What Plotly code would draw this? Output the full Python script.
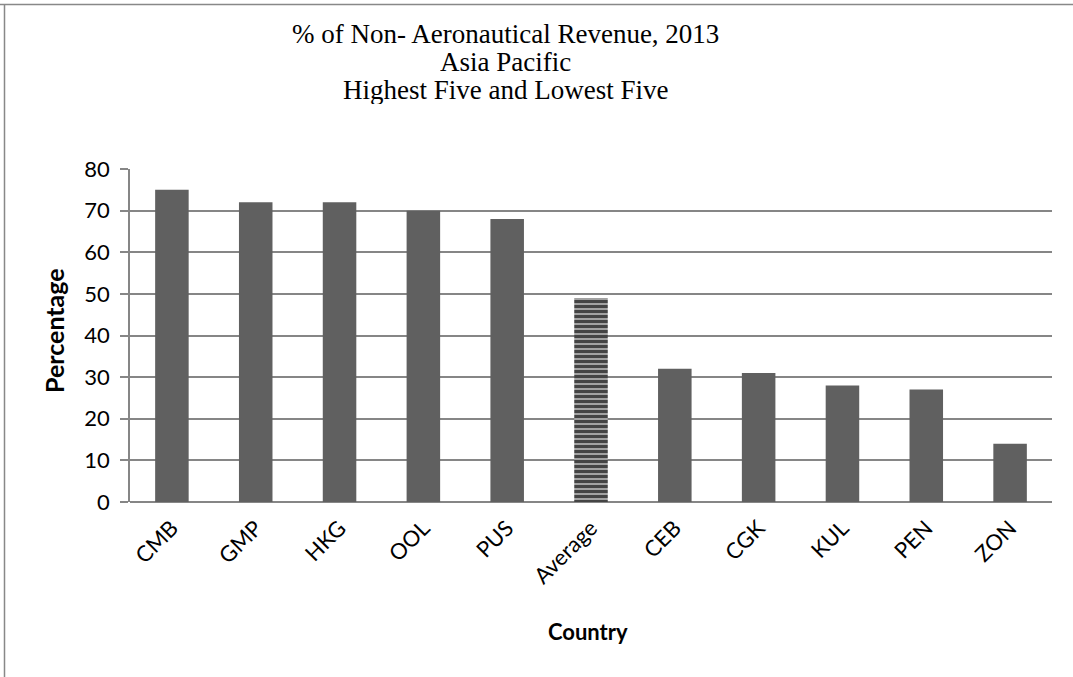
import plotly.graph_objects as go

categories = ["CMB", "GMP", "HKG", "OOL", "PUS", "Average", "CEB", "CGK", "KUL", "PEN", "ZON"]
values = [75, 72, 72, 70, 68, 49, 32, 31, 28, 27, 14]
y_ticks = [0, 10, 20, 30, 40, 50, 60, 70, 80]
title_lines = ["% of Non- Aeronautical Revenue, 2013", "Asia Pacific", "Highest Five and Lowest Five"]

bar_colors = ["#ffffff" if c == "Average" else "#606060" for c in categories]
bar_shapes = ["-" if c == "Average" else "" for c in categories]

fig = go.Figure()
fig.add_trace(go.Bar(
    x=categories, y=values,
    marker=dict(
        color=bar_colors,
        line=dict(width=0),
        pattern=dict(shape=bar_shapes, fgcolor="#000000", fgopacity=1, fillmode="overlay",
                     size=5, solidity=0.8),
    ),
    width=0.4,
))

W, H = 1073, 677
L, R, T, B = 130, 1052, 169, 502
pw, ph = R - L, B - T

def px(x):
    return (x - L) / pw

def py(y):
    return (B - y) / ph

grid = "#868686"
fig.update_layout(
    width=W, height=H,
    margin=dict(l=L, r=W - R, t=T, b=H - B),
    paper_bgcolor="white", plot_bgcolor="white",
    showlegend=False,
    font=dict(family="Lato, sans-serif", color="#000000", size=22),
    xaxis=dict(
        tickangle=-45, tickfont=dict(size=22, family="Lato"),
        showgrid=False, showline=False, zeroline=False, ticks="",
        ticklabelstandoff=8,
        range=[-0.5, len(categories) - 0.5],
    ),
    yaxis=dict(
        range=[0, 80], tickvals=y_ticks, showgrid=True, gridcolor=grid, gridwidth=1.5,
        showline=True, linecolor=grid, linewidth=1.5, ticks="outside", ticklen=8,
        tickcolor=grid, tickwidth=1.5, zeroline=True, zerolinecolor=grid, zerolinewidth=1.5,
        tickfont=dict(size=22, family="Lato"), ticklabelstandoff=6,
    ),
)

# chart border (top and left)
fig.add_shape(type="line", xref="paper", yref="paper",
              x0=px(0), x1=px(W), y0=py(4.5), y1=py(4.5),
              line=dict(color="#888888", width=1.5))
fig.add_shape(type="line", xref="paper", yref="paper",
              x0=px(4.5), x1=px(4.5), y0=py(4.5), y1=py(H),
              line=dict(color="#888888", width=1.5))

# title lines
for i, t in enumerate(title_lines):
    fig.add_annotation(text=t, xref="paper", yref="paper", x=px(505), y=py(34 + 28 * i),
                       xanchor="center", yanchor="middle", showarrow=False, height=28,
                       valign="middle",
                       font=dict(family="Liberation Serif", size=27, color="#000000"))

fig.add_annotation(text="<b>Percentage</b>", xref="paper", yref="paper", x=px(54), y=py(331),
                   textangle=-90, xanchor="center", yanchor="middle", showarrow=False,
                   font=dict(family="Lato", size=25))
fig.add_annotation(text="<b>Country</b>", xref="paper", yref="paper", x=px(588), y=py(631),
                   xanchor="center", yanchor="middle", showarrow=False,
                   font=dict(family="Lato", size=22))

fig.write_html("out.html")
